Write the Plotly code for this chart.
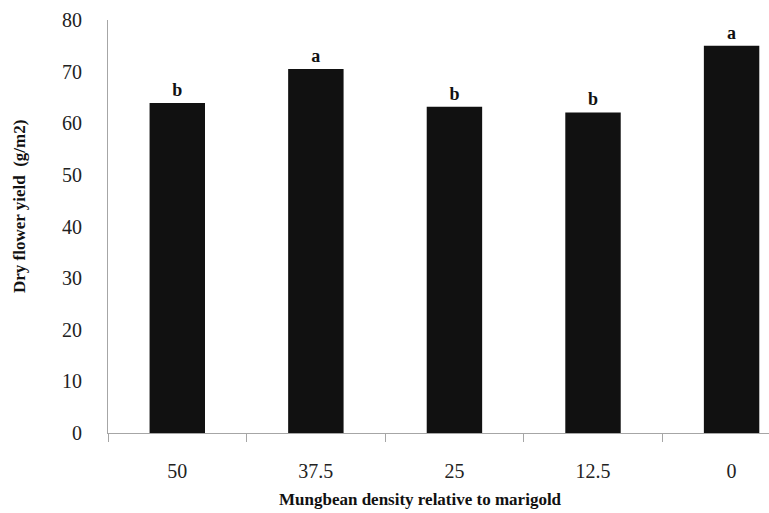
import plotly.graph_objects as go

categories = ["50", "37.5", "25", "12.5", "0"]
yield_vals = [63.9, 70.5, 63.2, 62.1, 75.0]
letters = ["b", "a", "b", "b", "a"]
y_ticks = [0, 10, 20, 30, 40, 50, 60, 70, 80]

FONT = "Liberation Serif"

fig = go.Figure()
fig.add_trace(go.Bar(
    x=categories, y=yield_vals,
    marker=dict(color="#111111", line=dict(width=0)),
    width=0.4,
    text=[f"<b>{t}</b>" for t in letters],
    textposition="outside",
    textfont=dict(family=FONT, size=18, color="#111111"),
    cliponaxis=False,
))

fig.update_layout(
    width=769, height=513,
    margin=dict(l=108, r=0, t=20, b=80),
    paper_bgcolor="white", plot_bgcolor="white",
    showlegend=False,
    font=dict(family=FONT, size=18, color="#222222"),
    xaxis=dict(
        type="category",
        range=[-0.5, 4.27],
        showline=True, linecolor="#a6a6a6", linewidth=1,
        ticks="outside", tickson="boundaries", ticklen=8, tickcolor="#a6a6a6",
        showgrid=False, zeroline=False,
        ticklabelstandoff=20,
        tickfont=dict(family=FONT, size=20, color="#222222"),
    ),
    yaxis=dict(
        range=[0, 80],
        tickvals=y_ticks,
        showline=True, linecolor="#a6a6a6", linewidth=1,
        ticks="", showgrid=False, zeroline=False,
        ticklabelstandoff=21,
        tickfont=dict(family=FONT, size=20, color="#222222"),
    ),
    annotations=[
        dict(text="<b>Mungbean density relative to marigold</b>",
             xref="paper", yref="paper", x=(420 - 108) / 661, y=-(500 - 433) / 413,
             xanchor="center", yanchor="middle", showarrow=False,
             font=dict(family=FONT, size=17, color="#111111")),
        dict(text="<b>Dry flower yield  (g/m2)</b>",
             xref="paper", yref="paper", x=-(108 - 20) / 661, y=(433 - 207) / 413,
             xanchor="center", yanchor="middle", showarrow=False, textangle=-90,
             font=dict(family=FONT, size=17, color="#111111")),
    ],
)

fig.write_html("out.html")
